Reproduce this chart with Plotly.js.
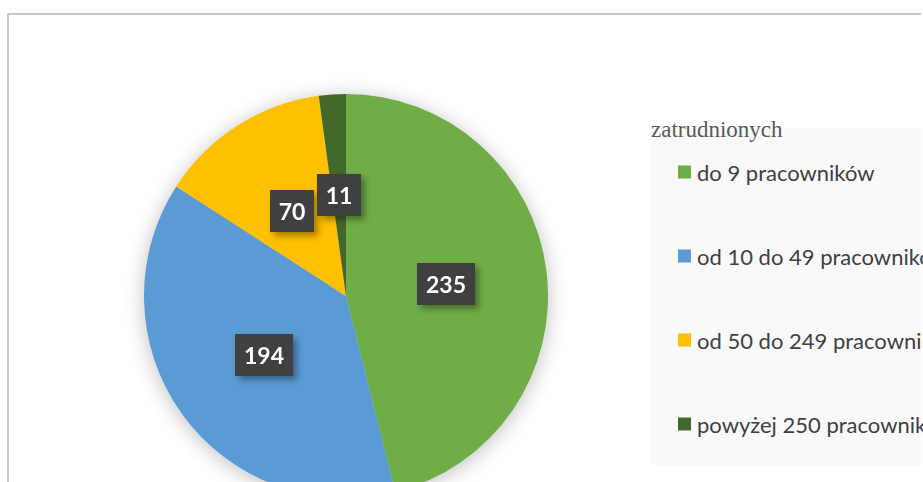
<!DOCTYPE html>
<html>
<head>
<meta charset="utf-8">
<script src="https://cdn.plot.ly/plotly-3.0.1.min.js"></script>
<style>
  html, body { margin: 0; padding: 0; overflow: hidden; background: #ffffff; }
  #chart { width: 923px; height: 540px; }
  .pielayer .trace { filter: drop-shadow(0px 3px 10px rgba(0,0,0,0.25)); }
</style>
</head>
<body>
<div id="chart"></div>
<script>
// ---- data ----
const categories = ["do 9 pracowników", "od 10 do 49 pracowników", "od 50 do 249 pracowników", "powyżej 250 pracowników"];
const values = [235, 194, 70, 11];
const colors = ["#70AD47", "#5B9BD5", "#FFC000", "#43682B"];
const legendTitle = "zatrudnionych";

// ---- geometry (layout only) ----
const W = 923, H = 540;
const cx = 346, cy = 296, r = 202;
const px = x => x / W;
const py = y => 1 - y / H;

const total = values.reduce((a, b) => a + b, 0);

const trace = {
  type: "pie",
  labels: categories,
  values: values,
  sort: false,
  direction: "clockwise",
  rotation: 0,
  textinfo: "none",
  hoverinfo: "label+value",
  marker: { colors: colors, line: { width: 0 } },
  domain: { x: [px(cx - r), px(cx + r)], y: [py(cy + r), py(cy - r)] },
  showlegend: false
};

const annotations = [];
const shapes = [];

// data labels placed at half radius on each slice's mid-angle
let cum = 0;
values.forEach((v, i) => {
  const a = (cum + v / 2) / total * 2 * Math.PI;
  cum += v;
  const x = cx + 0.5 * r * Math.sin(a);
  const y = cy - 0.5 * r * Math.cos(a);
  const txt = String(v);
  annotations.push({
    xref: "paper", yref: "paper", x: px(x), y: py(y),
    xanchor: "center", yanchor: "middle", showarrow: false,
    text: "<b>" + txt + "</b>",
    font: { family: "Lato, 'Open Sans', sans-serif", size: 23, color: "#ffffff" },
    bgcolor: "#404040", borderpad: 0, borderwidth: 0,
    width: 14 * txt.length + 16, height: 42
  });
});
const nLabelAnn = annotations.length;

// legend background
shapes.push({ type: "rect", xref: "paper", yref: "paper", layer: "below",
  x0: px(650), x1: px(921), y0: py(465), y1: py(128),
  fillcolor: "#F9F9F9", line: { width: 0 } });

// chart frame (top and left visible)
shapes.push({ type: "line", xref: "paper", yref: "paper", layer: "above",
  x0: px(8), x1: px(921), y0: py(14), y1: py(14), line: { color: "#C8C8C8", width: 2 } });
shapes.push({ type: "line", xref: "paper", yref: "paper", layer: "above",
  x0: px(8), x1: px(8), y0: py(14), y1: 0, line: { color: "#C8C8C8", width: 2 } });

// legend title
annotations.push({
  xref: "paper", yref: "paper", x: px(649), y: py(130),
  xanchor: "left", yanchor: "middle", showarrow: false,
  text: legendTitle,
  font: { family: "'Liberation Serif', 'DejaVu Serif', serif", size: 23, color: "#595959" }
});

// legend entries
categories.forEach((c, i) => {
  const yc = 172 + 84 * i;
  shapes.push({ type: "rect", xref: "paper", yref: "paper",
    x0: px(678), x1: px(691), y0: py(yc + 6.5), y1: py(yc - 6.5),
    fillcolor: colors[i], line: { width: 0 } });
  annotations.push({
    xref: "paper", yref: "paper", x: px(695), y: py(yc),
    xanchor: "left", yanchor: "middle", showarrow: false,
    text: c,
    font: { family: "Lato, 'Open Sans', sans-serif", size: 22, color: "#404040" }
  });
});

const layout = {
  width: W, height: H,
  margin: { l: 0, r: 0, t: 0, b: 0 },
  paper_bgcolor: "#ffffff",
  plot_bgcolor: "#ffffff",
  showlegend: false,
  annotations: annotations,
  shapes: shapes
};

Plotly.newPlot("chart", [trace], layout, { displayModeBar: false, staticPlot: true }).then(() => {
  document.querySelectorAll("g.annotation").forEach(g => {
    const idx = parseInt(g.getAttribute("data-index"), 10);
    if (idx < nLabelAnn) {
      g.style.filter = "drop-shadow(4px 4px 3px rgba(0,0,0,0.35))";
    }
  });
});
</script>
</body>
</html>
